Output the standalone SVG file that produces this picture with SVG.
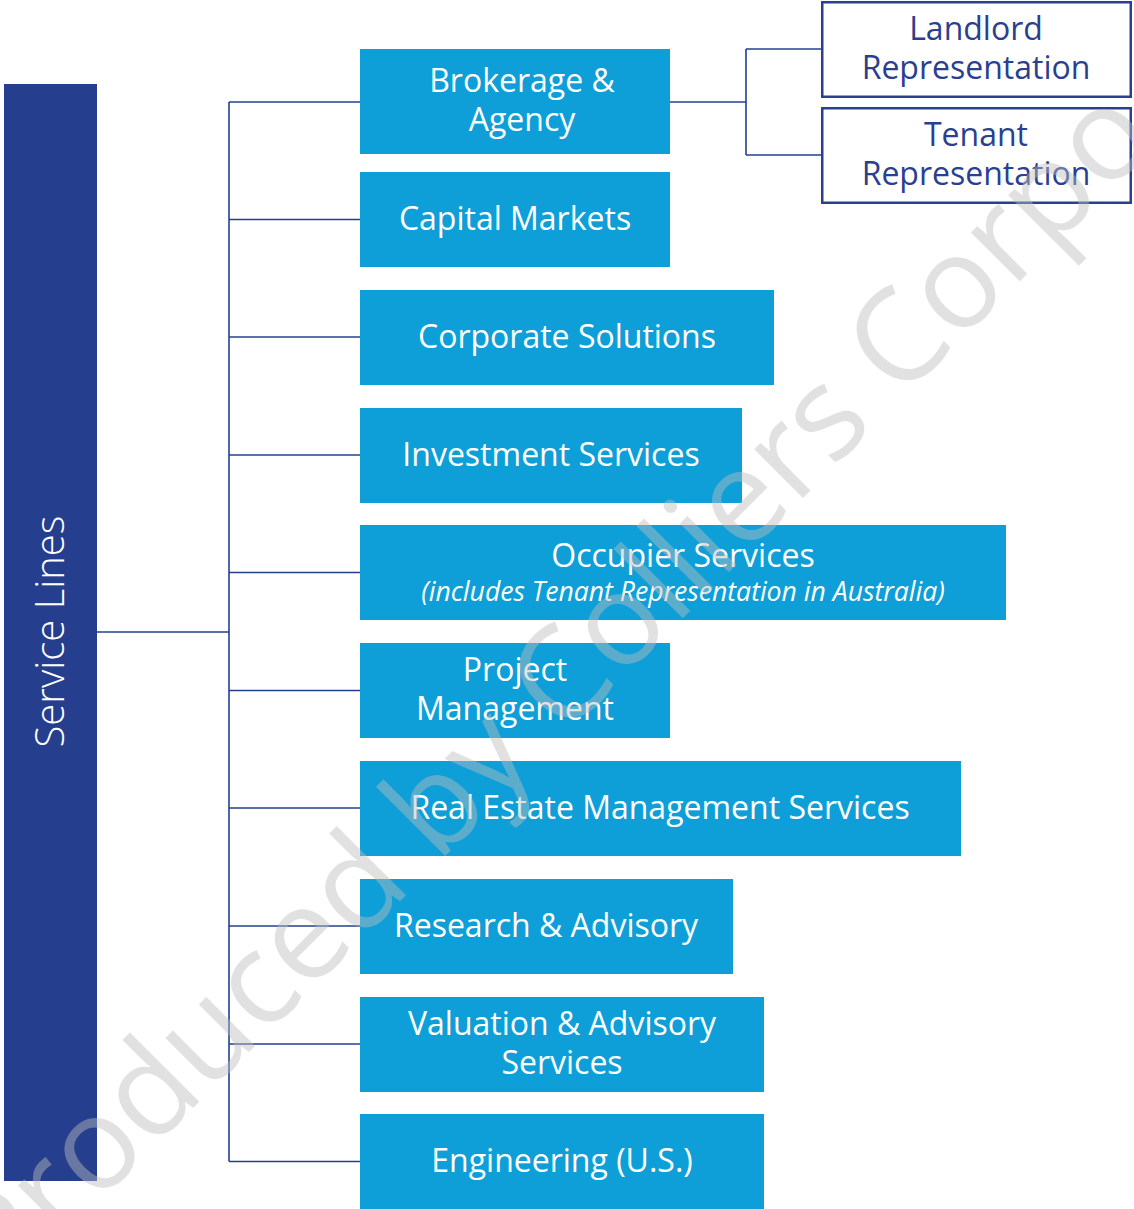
<svg xmlns="http://www.w3.org/2000/svg" width="1134" height="1209" viewBox="0 0 1134 1209">
  <defs>
    <style>
      .svc { fill: #0e9fd9; }
      .lbl { fill: #ffffff; font-family: "Open Sans", "Noto Sans", sans-serif; font-size: 32px; text-anchor: middle; }
      .sub { fill: #ffffff; font-family: "Open Sans", "Noto Sans", sans-serif; font-size: 26.6px; font-style: italic; text-anchor: middle; }
      .rep { fill: #ffffff; stroke: #2a3f8f; stroke-width: 2.5; }
      .replbl { fill: #2a3f8f; font-family: "Open Sans", "Noto Sans", sans-serif; font-size: 32px; text-anchor: middle; }
      .wire { fill: none; stroke: #253f8e; stroke-width: 1.6; }
      .mark { fill: #bcbcbc; fill-opacity: 0.45; font-family: "Open Sans", "Noto Sans", sans-serif; font-size: 129px; }
    </style>
  </defs>

  <rect width="1134" height="1209" fill="#ffffff"/>

  <!-- root bar -->
  <g id="service-lines">
    <rect x="4" y="84" width="93" height="1097" fill="#253f8e"/>
    <text transform="translate(64 631.5) rotate(-90)" text-anchor="middle" fill="#ffffff" font-family="'Open Sans', 'Noto Sans', sans-serif" font-size="40" font-weight="300">Service Lines</text>
  </g>

  <!-- connectors -->
  <g id="connectors" class="wire">
    <line x1="97" y1="632" x2="229" y2="632"/>
    <line x1="229" y1="102" x2="229" y2="1161.5"/>
    <line x1="229" y1="102" x2="360" y2="102"/>
    <line x1="229" y1="219.5" x2="360" y2="219.5"/>
    <line x1="229" y1="337" x2="360" y2="337"/>
    <line x1="229" y1="455" x2="360" y2="455"/>
    <line x1="229" y1="572.5" x2="360" y2="572.5"/>
    <line x1="229" y1="690.5" x2="360" y2="690.5"/>
    <line x1="229" y1="808" x2="360" y2="808"/>
    <line x1="229" y1="926" x2="360" y2="926"/>
    <line x1="229" y1="1044" x2="360" y2="1044"/>
    <line x1="229" y1="1161.5" x2="360" y2="1161.5"/>
    <line x1="670" y1="102" x2="746" y2="102"/>
    <line x1="746" y1="49" x2="746" y2="155"/>
    <line x1="746" y1="49" x2="821" y2="49"/>
    <line x1="746" y1="155" x2="821" y2="155"/>
  </g>

  <g id="brokerage-agency">
    <rect class="svc" x="360" y="49" width="310" height="105"/>
    <text class="lbl" x="522" y="92">Brokerage &amp;</text>
    <text class="lbl" x="522" y="131">Agency</text>
  </g>
  <g id="landlord-representation">
    <rect class="rep" x="822.25" y="2.25" width="308.5" height="94.5"/>
    <text class="replbl" x="976" y="40">Landlord</text>
    <text class="replbl" x="976" y="79">Representation</text>
  </g>
  <g id="tenant-representation">
    <rect class="rep" x="822.25" y="108.25" width="308.5" height="94.5"/>
    <text class="replbl" x="976" y="146">Tenant</text>
    <text class="replbl" x="976" y="185">Representation</text>
  </g>
  <g id="capital-markets">
    <rect class="svc" x="360" y="172" width="310" height="95"/>
    <text class="lbl" x="515" y="230">Capital Markets</text>
  </g>
  <g id="corporate-solutions">
    <rect class="svc" x="360" y="290" width="414" height="95"/>
    <text class="lbl" x="567" y="348">Corporate Solutions</text>
  </g>
  <g id="investment-services">
    <rect class="svc" x="360" y="408" width="382" height="95"/>
    <text class="lbl" x="551" y="466">Investment Services</text>
  </g>
  <g id="occupier-services">
    <rect class="svc" x="360" y="525" width="646" height="95"/>
    <text class="lbl" x="683" y="567">Occupier Services</text>
    <text class="sub" x="683" y="601">(includes Tenant Representation in Australia)</text>
  </g>
  <g id="project-management">
    <rect class="svc" x="360" y="643" width="310" height="95"/>
    <text class="lbl" x="515" y="681">Project</text>
    <text class="lbl" x="515" y="720">Management</text>
  </g>
  <g id="real-estate-management-services">
    <rect class="svc" x="360" y="761" width="601" height="95"/>
    <text class="lbl" x="660" y="819">Real Estate Management Services</text>
  </g>
  <g id="research-advisory">
    <rect class="svc" x="360" y="879" width="373" height="95"/>
    <text class="lbl" x="546" y="937">Research &amp; Advisory</text>
  </g>
  <g id="valuation-advisory-services">
    <rect class="svc" x="360" y="997" width="404" height="95"/>
    <text class="lbl" x="562" y="1035">Valuation &amp; Advisory</text>
    <text class="lbl" x="562" y="1074">Services</text>
  </g>
  <g id="engineering-us">
    <rect class="svc" x="360" y="1114" width="404" height="95"/>
    <text class="lbl" x="562" y="1172">Engineering (U.S.)</text>
  </g>

  <!-- diagonal watermark over the chart -->
  <text class="mark" transform="rotate(-45)" x="-914" y="920">Produced by Colliers Corpo</text>
</svg>
